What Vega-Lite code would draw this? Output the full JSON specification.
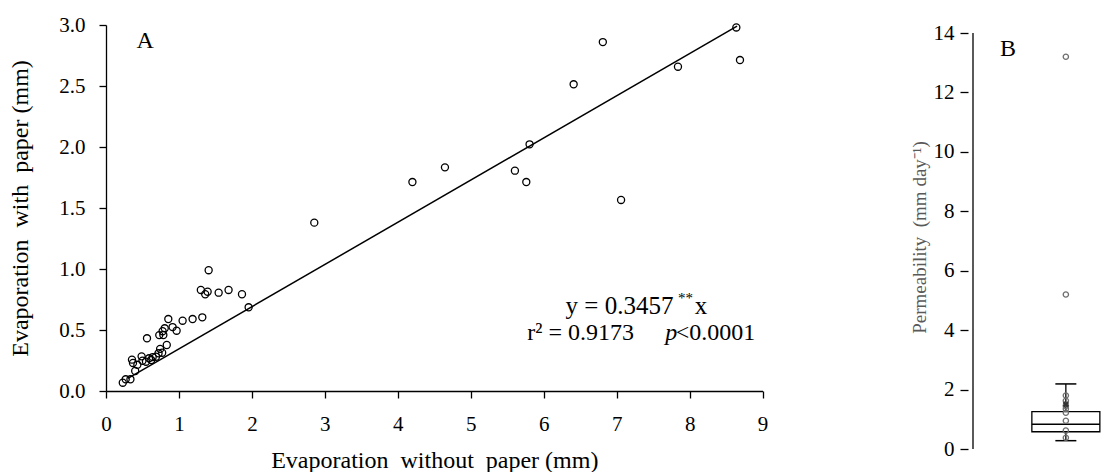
{
  "$schema": "https://vega.github.io/schema/vega-lite/v6.json",
  "background": "white",
  "padding": {"left": 8, "top": 14, "right": 0, "bottom": 0},
  "spacing": 142,
  "config": {
    "view": {"stroke": null},
    "font": "Liberation Serif",
    "axis": {
      "labelFont": "Liberation Serif",
      "titleFont": "Liberation Serif",
      "labelColor": "black",
      "titleColor": "black",
      "domainColor": "black",
      "tickColor": "black",
      "titleFontWeight": "normal",
      "grid": false,
      "labelFlush": false,
      "labelOverlap": false,
      "domainWidth": 1.3,
      "tickWidth": 1.3
    },
    "text": {"font": "Liberation Serif", "color": "black"}
  },
  "hconcat": [
    {
      "width": 656.6,
      "height": 366,
      "layer": [
        {
          "data": {"values": [
            {"x": 0.23, "y": 0.068}, {"x": 0.27, "y": 0.096}, {"x": 0.335, "y": 0.096}, {"x": 0.40, "y": 0.164},
            {"x": 0.356, "y": 0.257}, {"x": 0.37, "y": 0.23}, {"x": 0.43, "y": 0.215}, {"x": 0.488, "y": 0.284},
            {"x": 0.50, "y": 0.248}, {"x": 0.548, "y": 0.24}, {"x": 0.59, "y": 0.268}, {"x": 0.62, "y": 0.254},
            {"x": 0.64, "y": 0.278}, {"x": 0.685, "y": 0.281}, {"x": 0.72, "y": 0.309}, {"x": 0.742, "y": 0.345},
            {"x": 0.77, "y": 0.314}, {"x": 0.562, "y": 0.432}, {"x": 0.73, "y": 0.458}, {"x": 0.776, "y": 0.49},
            {"x": 0.805, "y": 0.514}, {"x": 0.786, "y": 0.459}, {"x": 0.833, "y": 0.377}, {"x": 0.854, "y": 0.59},
            {"x": 0.913, "y": 0.524}, {"x": 0.968, "y": 0.494}, {"x": 1.05, "y": 0.576}, {"x": 1.187, "y": 0.59},
            {"x": 1.32, "y": 0.604}, {"x": 1.30, "y": 0.828}, {"x": 1.36, "y": 0.793}, {"x": 1.393, "y": 0.814},
            {"x": 1.407, "y": 0.99}, {"x": 1.544, "y": 0.806}, {"x": 1.68, "y": 0.828}, {"x": 1.864, "y": 0.793},
            {"x": 1.955, "y": 0.686}, {"x": 2.855, "y": 1.38}, {"x": 4.20, "y": 1.713}, {"x": 4.646, "y": 1.833},
            {"x": 5.605, "y": 1.806}, {"x": 5.761, "y": 1.713}, {"x": 5.806, "y": 2.022}, {"x": 6.41, "y": 2.514},
            {"x": 6.81, "y": 2.86}, {"x": 7.06, "y": 1.566}, {"x": 7.84, "y": 2.658}, {"x": 8.64, "y": 2.98},
            {"x": 8.69, "y": 2.713}
          ]},
          "mark": {"type": "point", "shape": "circle", "filled": false, "stroke": "black", "strokeWidth": 1.3, "size": 50, "opacity": 1},
          "encoding": {
            "x": {"field": "x", "type": "quantitative",
              "scale": {"domain": [0, 9], "nice": false, "zero": false},
              "axis": {"title": "Evaporation\u00a0 without\u00a0 paper (mm)", "values": [0,1,2,3,4,5,6,7,8,9], "format": "d",
                "tickSize": 7, "labelFontSize": 21, "titleFontSize": 24, "labelPadding": 15, "titlePadding": 14}},
            "y": {"field": "y", "type": "quantitative",
              "scale": {"domain": [0, 3], "nice": false, "zero": false},
              "axis": {"title": "Evaporation\u00a0 with\u00a0 paper (mm)", "values": [0,0.5,1,1.5,2,2.5,3], "format": ".1f",
                "tickSize": 7, "labelFontSize": 21, "titleFontSize": 24, "labelPadding": 14, "titlePadding": 26}}
          }
        },
        {
          "data": {"values": [{"x": 0.3, "y": 0.104}, {"x": 8.65, "y": 2.99}]},
          "mark": {"type": "line", "color": "black", "strokeWidth": 1.5},
          "encoding": {
            "x": {"field": "x", "type": "quantitative"},
            "y": {"field": "y", "type": "quantitative"}
          }
        },
        {
          "data": {"values": [
            {"x": 6.3, "y": 0.631, "t": "y = 0.3457"},
            {"x": 8.07, "y": 0.631, "t": "x"}
          ]},
          "mark": {"type": "text", "align": "left", "baseline": "alphabetic", "fontSize": 25},
          "encoding": {
            "x": {"field": "x", "type": "quantitative"},
            "y": {"field": "y", "type": "quantitative"},
            "text": {"field": "t"}
          }
        },
        {
          "data": {"values": [
            {"x": 5.774, "y": 0.418, "t": "r\u00b2 = 0.9173"},
            {"x": 0.417, "y": 2.811, "t": "A"}
          ]},
          "mark": {"type": "text", "align": "left", "baseline": "alphabetic", "fontSize": 24},
          "encoding": {
            "x": {"field": "x", "type": "quantitative"},
            "y": {"field": "y", "type": "quantitative"},
            "text": {"field": "t"}
          }
        },
        {
          "data": {"values": [{"x": 8.9, "y": 0.418, "t": "<0.0001"}]},
          "mark": {"type": "text", "align": "right", "baseline": "alphabetic", "fontSize": 24},
          "encoding": {
            "x": {"field": "x", "type": "quantitative"},
            "y": {"field": "y", "type": "quantitative"},
            "text": {"field": "t"}
          }
        },
        {
          "data": {"values": [{"x": 7.666, "y": 0.418, "t": "p"}]},
          "mark": {"type": "text", "align": "left", "baseline": "alphabetic", "fontSize": 24, "fontStyle": "italic"},
          "encoding": {
            "x": {"field": "x", "type": "quantitative"},
            "y": {"field": "y", "type": "quantitative"},
            "text": {"field": "t"}
          }
        },
        {
          "data": {"values": [{"x": 7.84, "y": 0.725, "t": "**"}]},
          "mark": {"type": "text", "align": "left", "baseline": "alphabetic", "fontSize": 15},
          "encoding": {
            "x": {"field": "x", "type": "quantitative"},
            "y": {"field": "y", "type": "quantitative"},
            "text": {"field": "t"}
          }
        }
      ]
    },
    {
      "width": 140,
      "height": 424,
      "layer": [
        {
          "data": {"values": [{"g": 1, "lo": 0.28, "q1": 0.58, "med": 0.83, "q3": 1.26, "hi": 2.19}]},
          "layer": [
            {
              "mark": {"type": "rule", "color": "black", "strokeWidth": 1.3},
              "encoding": {
                "x": {"field": "g", "type": "quantitative", "scale": {"domain": [0, 1.4], "nice": false, "zero": false}, "axis": null},
                "y": {"field": "lo", "type": "quantitative",
                  "scale": {"domain": [0, 14.27], "nice": false, "zero": false},
                  "axis": {"title": "Permeability\u00a0 (mm day\u207b\u00b9)", "values": [0,2,4,6,8,10,12,14], "domain": false,
                    "tickSize": 8, "labelFontSize": 21, "titleFontSize": 19, "titleColor": "#595959",
                    "labelPadding": 6, "titlePadding": 4}},
                "y2": {"field": "hi"}
              }
            },
            {
              "mark": {"type": "bar", "size": 68, "fill": "white", "stroke": "black", "strokeWidth": 1.3},
              "encoding": {
                "x": {"field": "g", "type": "quantitative"},
                "y": {"field": "q1", "type": "quantitative"},
                "y2": {"field": "q3"}
              }
            },
            {
              "mark": {"type": "tick", "orient": "horizontal", "size": 68, "thickness": 1.5, "color": "black", "opacity": 1},
              "encoding": {
                "x": {"field": "g", "type": "quantitative"},
                "y": {"field": "med", "type": "quantitative"}
              }
            },
            {
              "mark": {"type": "tick", "orient": "horizontal", "size": 21, "thickness": 1.5, "color": "black", "opacity": 1},
              "encoding": {
                "x": {"field": "g", "type": "quantitative"},
                "y": {"field": "hi", "type": "quantitative"}
              }
            },
            {
              "mark": {"type": "tick", "orient": "horizontal", "size": 21, "thickness": 1.5, "color": "black", "opacity": 1},
              "encoding": {
                "x": {"field": "g", "type": "quantitative"},
                "y": {"field": "lo", "type": "quantitative"}
              }
            }
          ]
        },
        {
          "data": {"values": [{"g": 0, "a": 0, "b": 14}]},
          "mark": {"type": "rule", "color": "black", "strokeWidth": 1.3},
          "encoding": {
            "x": {"field": "g", "type": "quantitative"},
            "y": {"field": "a", "type": "quantitative"},
            "y2": {"field": "b"}
          }
        },
        {
          "data": {"values": [
            {"g": 1, "v": 13.2}, {"g": 1, "v": 5.2}, {"g": 1, "v": 1.8}, {"g": 1, "v": 1.62},
            {"g": 1, "v": 1.45}, {"g": 1, "v": 1.35}, {"g": 1, "v": 1.22}, {"g": 1, "v": 0.95},
            {"g": 1, "v": 0.62}, {"g": 1, "v": 0.38}
          ]},
          "mark": {"type": "point", "shape": "circle", "filled": false, "stroke": "#6e6e6e", "strokeWidth": 1.3, "size": 28, "opacity": 1},
          "encoding": {
            "x": {"field": "g", "type": "quantitative"},
            "y": {"field": "v", "type": "quantitative"}
          }
        },
        {
          "data": {"values": [{"g": 1, "m": 1.5}]},
          "mark": {"type": "point", "shape": "cross", "angle": 45, "filled": true, "fill": "#333333", "size": 40, "opacity": 1},
          "encoding": {
            "x": {"field": "g", "type": "quantitative"},
            "y": {"field": "m", "type": "quantitative"}
          }
        },
        {
          "data": {"values": [{"g": 0.29, "v": 13.21, "t": "B"}]},
          "mark": {"type": "text", "align": "left", "baseline": "alphabetic", "fontSize": 24},
          "encoding": {
            "x": {"field": "g", "type": "quantitative"},
            "y": {"field": "v", "type": "quantitative"},
            "text": {"field": "t"}
          }
        }
      ]
    }
  ]
}
